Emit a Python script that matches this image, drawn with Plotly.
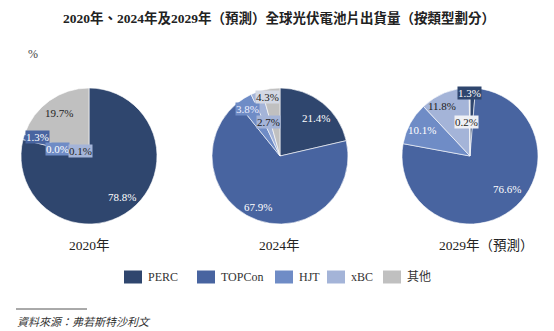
import math
import plotly.graph_objects as go

W, H = 554, 331

# ---- data ----
types = ["PERC", "TOPCon", "HJT", "xBC", "其他"]
years = ["2020年", "2024年", "2029年（預測）"]
share_2020 = [78.8, 1.3, 0.0, 0.1, 19.7]
share_2024 = [21.4, 67.9, 3.8, 2.7, 4.3]
share_2029 = [1.3, 76.6, 10.1, 11.8, 0.2]
shares = [share_2020, share_2024, share_2029]

colors = ["#2f466e", "#4864a0", "#6f8cc6", "#a4b4d8", "#c0c0c0"]

# ---- styles: pie geometry (px) and label placement tweaks ----
pie_centers = [(89, 156), (280, 156), (470, 156)]
R = 68
# (radial fraction, angle nudge in degrees, text colour, background or None)
label_style = [
    [(0.77, -1, "white", None), (0.80, 4, "white", colors[1]), (0.48, -6, "white", colors[2]),
     (0.15, 10, "#222", colors[3]), (0.77, 0, "#222", None)],
    [(0.77, 5, "white", None), (0.82, 4, "white", None), (0.84, -3, "#eef", colors[2]),
     (0.53, 1, "#222", colors[3]), (0.89, -4, "#222", "#d3d8e4")],
    [(0.93, -3, "white", colors[0]), (0.73, -11, "white", None), (0.80, 0, "white", None),
     (0.84, -7, "#222", None), (0.50, -6, "#222", "#eef0f5")],
]
year_x = [89, 279, 487]
legend_box_x = [124, 197, 275, 327, 383]
legend_y = 277

FONT = "Liberation Serif, Times New Roman, Noto Sans CJK TC, serif"

fig = go.Figure()
annotations = []
shapes = []
for i, (vals, (cx, cy)) in enumerate(zip(shares, pie_centers)):
    fig.add_trace(go.Pie(
        labels=types, values=vals, sort=False, direction="clockwise", rotation=0,
        marker=dict(colors=colors, line=dict(color="white", width=0.6)),
        textinfo="none", hoverinfo="label+percent", showlegend=False,
        domain=dict(x=[(cx - R) / W, (cx + R) / W], y=[1 - (cy + R) / H, 1 - (cy - R) / H]),
    ))
    total = sum(vals)
    cum = 0.0
    for j, v in enumerate(vals):
        mid = (cum + v / 2) / total * 360
        cum += v
        rf, nudge, tcol, bg = label_style[i][j]
        th = math.radians(mid + nudge)
        px = cx + rf * R * math.sin(th)
        py = cy - rf * R * math.cos(th)
        ann = dict(x=px / W, y=1 - py / H, xref="paper", yref="paper",
                   text=f"{v:.1f}%", showarrow=False,
                   font=dict(family=FONT, size=11, color=tcol),
                   xanchor="center", yanchor="middle", borderpad=0)
        if bg:
            ann["bgcolor"] = bg
        annotations.append(ann)

# year captions
for yx, yl in zip(year_x, years):
    annotations.append(dict(x=yx / W, y=1 - 245 / H, xref="paper", yref="paper", text=yl,
                            showarrow=False, font=dict(family=FONT, size=13.5, color="#222"),
                            xanchor="center", yanchor="middle"))

# legend (swatches + labels)
for bx, name, col in zip(legend_box_x, types, colors):
    shapes.append(dict(type="rect", xref="paper", yref="paper",
                       x0=bx / W, x1=(bx + 18) / W,
                       y0=1 - (legend_y + 6.5) / H, y1=1 - (legend_y - 6.5) / H,
                       fillcolor=col, line=dict(width=0)))
    annotations.append(dict(x=(bx + 22) / W, y=1 - legend_y / H, xref="paper", yref="paper",
                            text=name, showarrow=False,
                            font=dict(family=FONT, size=12, color="#333"),
                            xanchor="left", yanchor="middle"))

# title, unit, source
annotations.append(dict(x=279 / W, y=1 - 18 / H, xref="paper", yref="paper",
                        text="<b>2020年、2024年及2029年（預測）全球光伏電池片出貨量（按類型劃分）</b>",
                        showarrow=False, font=dict(family=FONT, size=13.5, color="#222"),
                        xanchor="center", yanchor="middle"))
annotations.append(dict(x=26 / W, y=1 - 54 / H, xref="paper", yref="paper", text="%",
                        showarrow=False, font=dict(family=FONT, size=12, color="#444"),
                        xanchor="left", yanchor="middle"))
annotations.append(dict(x=15 / W, y=1 - 322 / H, xref="paper", yref="paper",
                        text="<i>資料來源：弗若斯特沙利文</i>",
                        showarrow=False, font=dict(family=FONT, size=11, color="#333"),
                        xanchor="left", yanchor="middle"))
shapes.append(dict(type="line", xref="paper", yref="paper", x0=16 / W, x1=87 / W,
                   y0=1 - 309 / H, y1=1 - 309 / H, line=dict(color="#555", width=1)))

fig.update_layout(
    width=W, height=H, margin=dict(l=0, r=0, t=0, b=0),
    paper_bgcolor="white", plot_bgcolor="white",
    annotations=annotations, shapes=shapes, showlegend=False,
)

fig.write_html("out.html")
